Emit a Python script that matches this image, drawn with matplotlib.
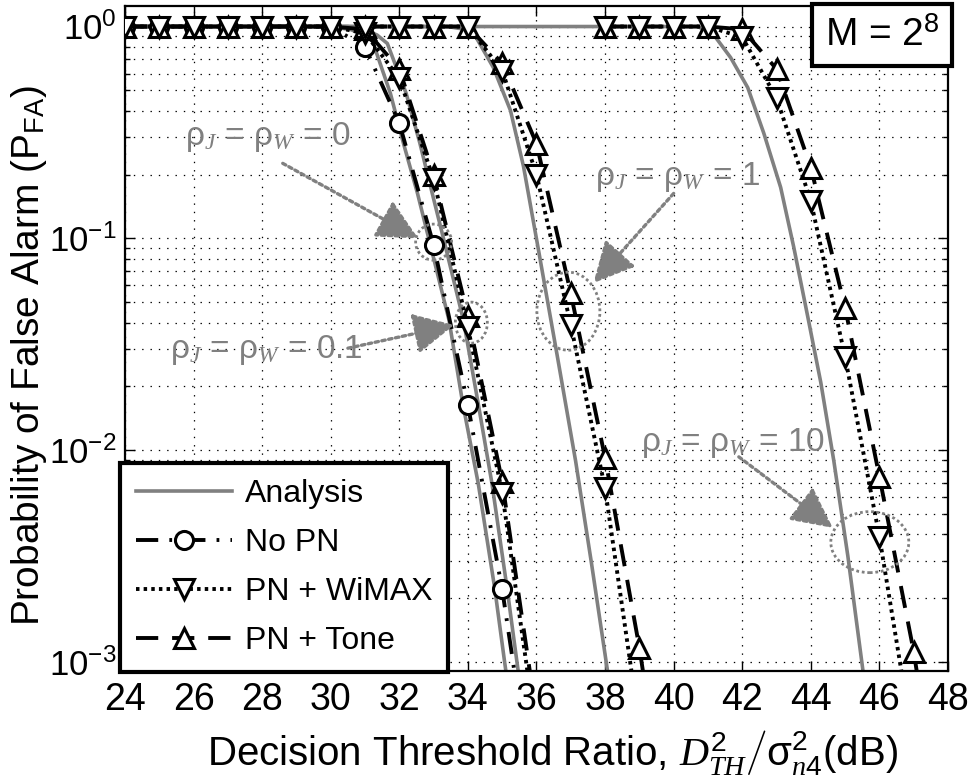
import matplotlib
matplotlib.use("Agg")
import matplotlib.pyplot as plt
from matplotlib.patches import Ellipse
from matplotlib.transforms import ScaledTranslation
from matplotlib.ticker import NullLocator, LogLocator

# ---- data ----
# simulation, rho_J = rho_W = 0 (No PN) and 0.1 (PN)
x_sim0 = [24, 25, 26, 27, 28, 29, 30, 31, 32, 33, 34, 35, 36]
nopn = [1.0, 1.0, 1.0, 1.0, 1.0, 1.0, 1.0, 0.80, 0.35, 0.093, 0.0163, 0.0022, 0.00018]
wimax_01 = [1.0, 1.0, 1.0, 1.0, 1.0, 1.0, 1.0, 0.93, 0.57, 0.19, 0.038, 0.0063, 0.00045]
tone_01 = [1.0, 1.0, 1.0, 1.0, 1.0, 1.0, 1.0, 0.97, 0.63, 0.20, 0.043, 0.0071, 0.00055]

# simulation, rho = 1
x_sim1 = [31, 32, 33, 34, 35, 36, 37, 38, 39, 40]
wimax_1 = [1.0, 1.0, 1.0, 1.0, 0.62, 0.20, 0.039, 0.0066, 0.0005, 0.00004]
tone_1 = [1.0, 1.0, 1.0, 1.0, 0.67, 0.28, 0.055, 0.0092, 0.00117, 0.0001]

# simulation, rho = 10
x_sim10 = [38, 39, 40, 41, 42, 43, 44, 45, 46, 47, 48]
wimax_10 = [1.0, 1.0, 1.0, 1.0, 0.89, 0.46, 0.15, 0.0275, 0.0039, 0.0004, 0.00003]
tone_10 = [1.0, 1.0, 1.0, 1.0, 0.97, 0.63, 0.216, 0.047, 0.0075, 0.00112, 0.0001]

# analysis curves
ana0_x = [24, 30.0, 30.6, 31.0, 31.24, 31.74, 32.12, 32.53, 32.85, 33.45, 33.85, 34.3, 34.78, 35.07, 35.2]
ana0_y = [1.0, 1.0, 0.966, 0.902, 0.832, 0.483, 0.281, 0.163, 0.101, 0.041, 0.0166, 0.00698, 0.00224, 0.001, 0.00071]
ana01_x = [24, 30.5, 31.0, 31.35, 31.65, 32.2, 32.6, 32.96, 33.28, 33.87, 34.3, 34.7, 35.14, 35.43, 35.6]
ana01_y = [1.0, 1.0, 0.966, 0.912, 0.832, 0.483, 0.281, 0.163, 0.101, 0.041, 0.0166, 0.00698, 0.00224, 0.001, 0.00063]
ana1_x = [24, 33.4, 33.8, 34.2, 34.74, 35.24, 35.62, 36.06, 36.6, 37.14, 37.6, 38.07, 38.2]
ana1_y = [1.0, 1.0, 0.977, 0.912, 0.641, 0.402, 0.219, 0.0877, 0.0282, 0.0089, 0.00295, 0.00091, 0.00063]
ana10_x = [24, 40.7, 41.14, 41.66, 42.16, 42.63, 43.12, 43.50, 43.91, 44.29, 44.67, 45.08, 45.52, 45.7]
ana10_y = [1.0, 1.0, 0.927, 0.714, 0.515, 0.313, 0.174, 0.0912, 0.0427, 0.0209, 0.00891, 0.00316, 0.00091, 0.0005]

legend_labels = ["Analysis", "No PN", "PN + WiMAX", "PN + Tone"]
x_ticks = [24, 26, 28, 30, 32, 34, 36, 38, 40, 42, 44, 46, 48]

# annotation labels: (text, text pos, arrow tail, arrow tip, ring centre, ring w/h in inches)
notes = [
    ("0", (25.75, 0.30), (28.6, 0.226), (32.55, 0.10), (33.0, 0.096), (0.36, 0.36)),
    ("0.1", (25.3, 0.0296), (30.5, 0.0303), (33.6, 0.039), (34.1, 0.040), (0.32, 0.41)),
    ("1", (37.72, 0.194), (40.0, 0.163), (37.66, 0.0615), (36.93, 0.0453), (0.63, 0.78)),
    ("10", (39.04, 0.0108), (41.9, 0.0093), (44.64, 0.0043), (45.72, 0.00368), (0.78, 0.61)),
]

plt.rcParams.update({
    "font.family": ["Liberation Sans", "DejaVu Sans"],
    "mathtext.fontset": "custom",
    "mathtext.rm": "Liberation Sans",
    "mathtext.it": "Liberation Serif:italic",
    "mathtext.bf": "Liberation Sans:bold",
    "lines.scale_dashes": False,
    "axes.unicode_minus": False,
})

grey = "#808080"
fig = plt.figure(figsize=(9.7, 7.76), dpi=100)
ax = fig.add_axes([125 / 970, 105 / 776, 823 / 970, 665 / 776])

ana_kw = dict(color=grey, lw=2.6, zorder=2)
nopn_kw = dict(color="black", lw=2.8, dashes=(16, 8, 2, 8), marker="o", ms=13,
               mfc="white", mec="black", mew=2.2, zorder=3)
wimax_kw = dict(color="black", lw=2.8, dashes=(2.5, 3), marker="v", ms=15,
                mfc="white", mec="black", mew=2.2, zorder=5)
tone_kw = dict(color="black", lw=2.8, dashes=(16, 10), marker="^", ms=15,
               mfc="white", mec="black", mew=2.2, zorder=4)

h_ana, = ax.plot(ana0_x, ana0_y, **ana_kw)
ax.plot(ana01_x, ana01_y, **ana_kw)
ax.plot(ana1_x, ana1_y, **ana_kw)
ax.plot(ana10_x, ana10_y, **ana_kw)

h_nopn, = ax.plot(x_sim0, nopn, **nopn_kw)
h_tone, = ax.plot(x_sim0, tone_01, **tone_kw)
h_wimax, = ax.plot(x_sim0, wimax_01, **wimax_kw)
ax.plot(x_sim1, tone_1, **tone_kw)
ax.plot(x_sim1, wimax_1, **wimax_kw)
ax.plot(x_sim10, tone_10, **tone_kw)
ax.plot(x_sim10, wimax_10, **wimax_kw)

ax.set_yscale("log")
ax.set_xlim(24, 48)
ax.set_ylim(9.07e-4, 1.25)
ax.set_xticks(x_ticks)
ax.xaxis.set_minor_locator(NullLocator())
ax.yaxis.set_major_locator(LogLocator(base=10, numticks=10))
ax.yaxis.set_minor_locator(LogLocator(base=10, subs=range(2, 10), numticks=20))

ax.tick_params(which="both", direction="in", top=True, right=True, width=1)
ax.tick_params(which="major", length=7, pad=6)
ax.tick_params(which="minor", length=3.5)
ax.tick_params(axis="x", labelsize=27, pad=8)
ax.tick_params(axis="y", labelsize=25)
for s in ax.spines.values():
    s.set_linewidth(1.6)

ax.grid(True, which="major", axis="both", color="black", lw=0.9, linestyle=(0, (1, 5)))
ax.grid(True, which="minor", axis="y", color="black", lw=0.9, linestyle=(0, (1, 5)))

ax.set_ylabel("Probability of False Alarm (P$_{\\mathrm{FA}}$)", fontsize=28)
ax.yaxis.set_label_coords(-0.092, 0.475)
ax.set_xlabel("Decision Threshold Ratio, $D_{TH}^{2}\\left/\\mathrm{\u03c3}_{n4}^{2}\\right.$(dB)",
              fontsize=29)
ax.xaxis.set_label_coords(0.519, -0.085)

for val, tpos, tail, tip, ctr, wh in notes:
    ax.text(tpos[0], tpos[1], "\u03c1$_{J}$ = \u03c1$_{W}$ = " + val, color=grey,
            fontsize=24, ha="left", va="center", zorder=6)
    ax.annotate("", xy=tip, xytext=tail,
                arrowprops=dict(arrowstyle="-|>,head_length=0.9,head_width=0.45",
                                color=grey, lw=2.4, linestyle=(0, (2.5, 2.5)),
                                shrinkA=0, shrinkB=0, mutation_scale=28),
                zorder=6)
    tr = fig.dpi_scale_trans + ScaledTranslation(ctr[0], ctr[1], ax.transData)
    ax.add_patch(Ellipse((0, 0), wh[0], wh[1], transform=tr, fill=False,
                         ec=grey, lw=2, linestyle=(0, (2, 2)), zorder=6))

ax.text(0.92, 0.956, "M = 2$^{8}$", transform=ax.transAxes, fontsize=28,
        ha="center", va="center", zorder=10,
        bbox=dict(boxstyle="square,pad=0.33", fc="white", ec="black", lw=3))

leg = ax.legend([h_ana, h_nopn, h_wimax, h_tone], legend_labels, loc="lower left",
                bbox_to_anchor=(-0.006, -0.002), borderaxespad=0, fontsize=23,
                handlelength=3.0, handletextpad=0.4, labelspacing=0.6,
                borderpad=0.5, fancybox=False, edgecolor="black", framealpha=1,
                numpoints=1)
leg.get_frame().set_linewidth(3)
leg.set_zorder(8)

fig.savefig("out.png", dpi=100)
